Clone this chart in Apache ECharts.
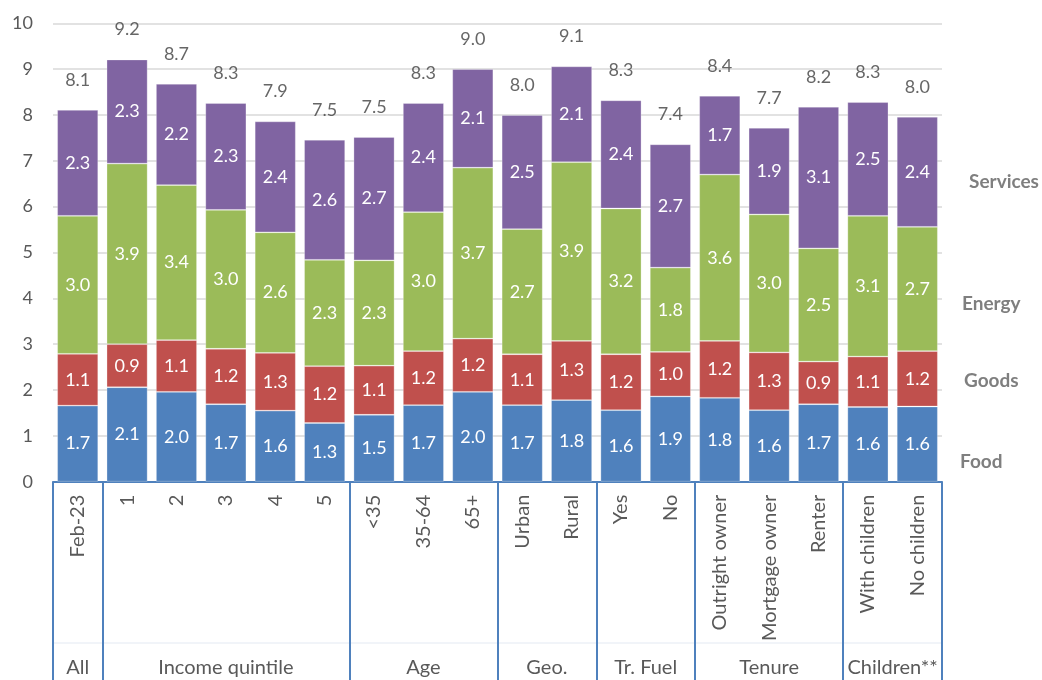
<!DOCTYPE html>
<html>
<head>
<meta charset="utf-8">
<script src="https://cdn.jsdelivr.net/npm/echarts@6/dist/echarts.min.js"></script>
<style>html,body{margin:0;padding:0;background:#fff}#c{width:1042px;height:680px}</style>
</head>
<body>
<div id="c"></div>
<script>
var categories = ['Feb-23','1','2','3','4','5','<35','35-64','65+','Urban','Rural','Yes','No','Outright owner','Mortgage owner','Renter','With children','No children'];
var groupNames = ['All','Income quintile','Age','Geo.','Tr. Fuel','Tenure','Children**'];
var groupSizes = [1,5,3,2,2,3,2];
var food     = [1.66,2.06,1.96,1.69,1.55,1.28,1.46,1.67,1.96,1.67,1.78,1.56,1.86,1.83,1.56,1.69,1.63,1.64];
var goods    = [1.13,0.94,1.13,1.21,1.26,1.24,1.07,1.18,1.16,1.11,1.29,1.22,0.97,1.24,1.26,0.93,1.10,1.21];
var energy   = [3.01,3.94,3.38,3.03,2.63,2.32,2.30,3.03,3.73,2.73,3.90,3.18,1.84,3.63,3.01,2.47,3.07,2.71];
var services = [2.31,2.27,2.21,2.33,2.42,2.62,2.69,2.38,2.15,2.49,2.09,2.36,2.69,1.72,1.89,3.09,2.48,2.40];
var yTicks = [0,1,2,3,4,5,6,7,8,9,10];

var totals = categories.map(function(c,i){ return food[i]+goods[i]+energy[i]+services[i]; });
var boundaries = [0]; var centers = [];
groupSizes.forEach(function(s){ var b = boundaries[boundaries.length-1]; centers.push(b + s/2); boundaries.push(b + s); });

var FONT = 'Lato';
function seg(name, data, color){
  return {
    name: name, type: 'bar', stack: 'all', data: data, barCategoryGap: '17%',
    itemStyle: { color: color, borderColor: 'rgba(255,255,255,0.35)', borderWidth: 0.8 },
    label: { show: true, position: 'inside', color: '#fff', fontFamily: FONT, fontSize: 18,
      formatter: function(p){ return p.value.toFixed(1); } },
    emphasis: { disabled: true }
  };
}
var chart = echarts.init(document.getElementById('c'), null, { renderer: 'canvas' });
chart.setOption({
  animation: false,
  backgroundColor: '#fff',
  textStyle: { fontFamily: FONT },
  grid: { left: 53, right: 100, top: 23.3, bottom: 198.3, containLabel: false },
  xAxis: [{
    type: 'category', data: categories,
    axisLine: { show: true, lineStyle: { color: '#4F81BD', width: 2 } },
    axisTick: { show: false },
    axisLabel: { interval: 0, rotate: 90, margin: 13, color: '#595959', fontFamily: FONT, fontSize: 20 }
  },{
    type: 'value', min: 0, max: categories.length, position: 'bottom',
    axisLine: { show: false },
    splitLine: { show: false },
    axisTick: { show: true, customValues: boundaries, length: 200, lineStyle: { color: '#4F81BD', width: 2 } },
    axisLabel: { show: true, customValues: centers, margin: 176, color: '#595959', fontFamily: FONT, fontSize: 20,
      formatter: function(v){ for (var i=0;i<centers.length;i++){ if (Math.abs(centers[i]-v) < 1e-6) return groupNames[i]; } return ''; } }
  }],
  yAxis: {
    type: 'value', min: 0, max: 10, interval: 1,
    axisLine: { show: false }, axisTick: { show: false },
    axisLabel: { margin: 20, color: '#595959', fontFamily: FONT, fontSize: 18,
      formatter: function(v){ return yTicks.indexOf(v) >= 0 ? String(v) : ''; } },
    splitLine: { lineStyle: { color: '#d9d9d9', width: 1.5 } }
  },
  series: [
    seg('Food', food, '#4F81BD'),
    seg('Goods', goods, '#C0504D'),
    seg('Energy', energy, '#9BBB59'),
    seg('Services', services, '#8064A2'),
    {
      name: 'Total', type: 'scatter', xAxisIndex: 0, data: totals, symbolSize: 2,
      itemStyle: { color: 'rgba(0,0,0,0)' }, silent: true, z: 5,
      label: { show: true, position: 'top', distance: 20, color: '#404040', fontFamily: FONT, fontSize: 18,
        formatter: function(p){ return p.value.toFixed(1); } },
      labelLayout: { hideOverlap: false }
    }
  ],
  graphic: [
    { type: 'line', silent: true, shape: { x1: 53, y1: 643, x2: 942, y2: 643 }, style: { stroke: '#e3e9f2', lineWidth: 1 } },
    { type: 'text', left: 969, top: 172, style: { text: 'Services', fill: '#7f7f7f', font: 'bold 19px Lato' } },
    { type: 'text', left: 962, top: 294, style: { text: 'Energy', fill: '#7f7f7f', font: 'bold 19px Lato' } },
    { type: 'text', left: 964, top: 371, style: { text: 'Goods', fill: '#7f7f7f', font: 'bold 19px Lato' } },
    { type: 'text', left: 960, top: 452, style: { text: 'Food', fill: '#7f7f7f', font: 'bold 19px Lato' } }
  ]
});
</script>
</body>
</html>
